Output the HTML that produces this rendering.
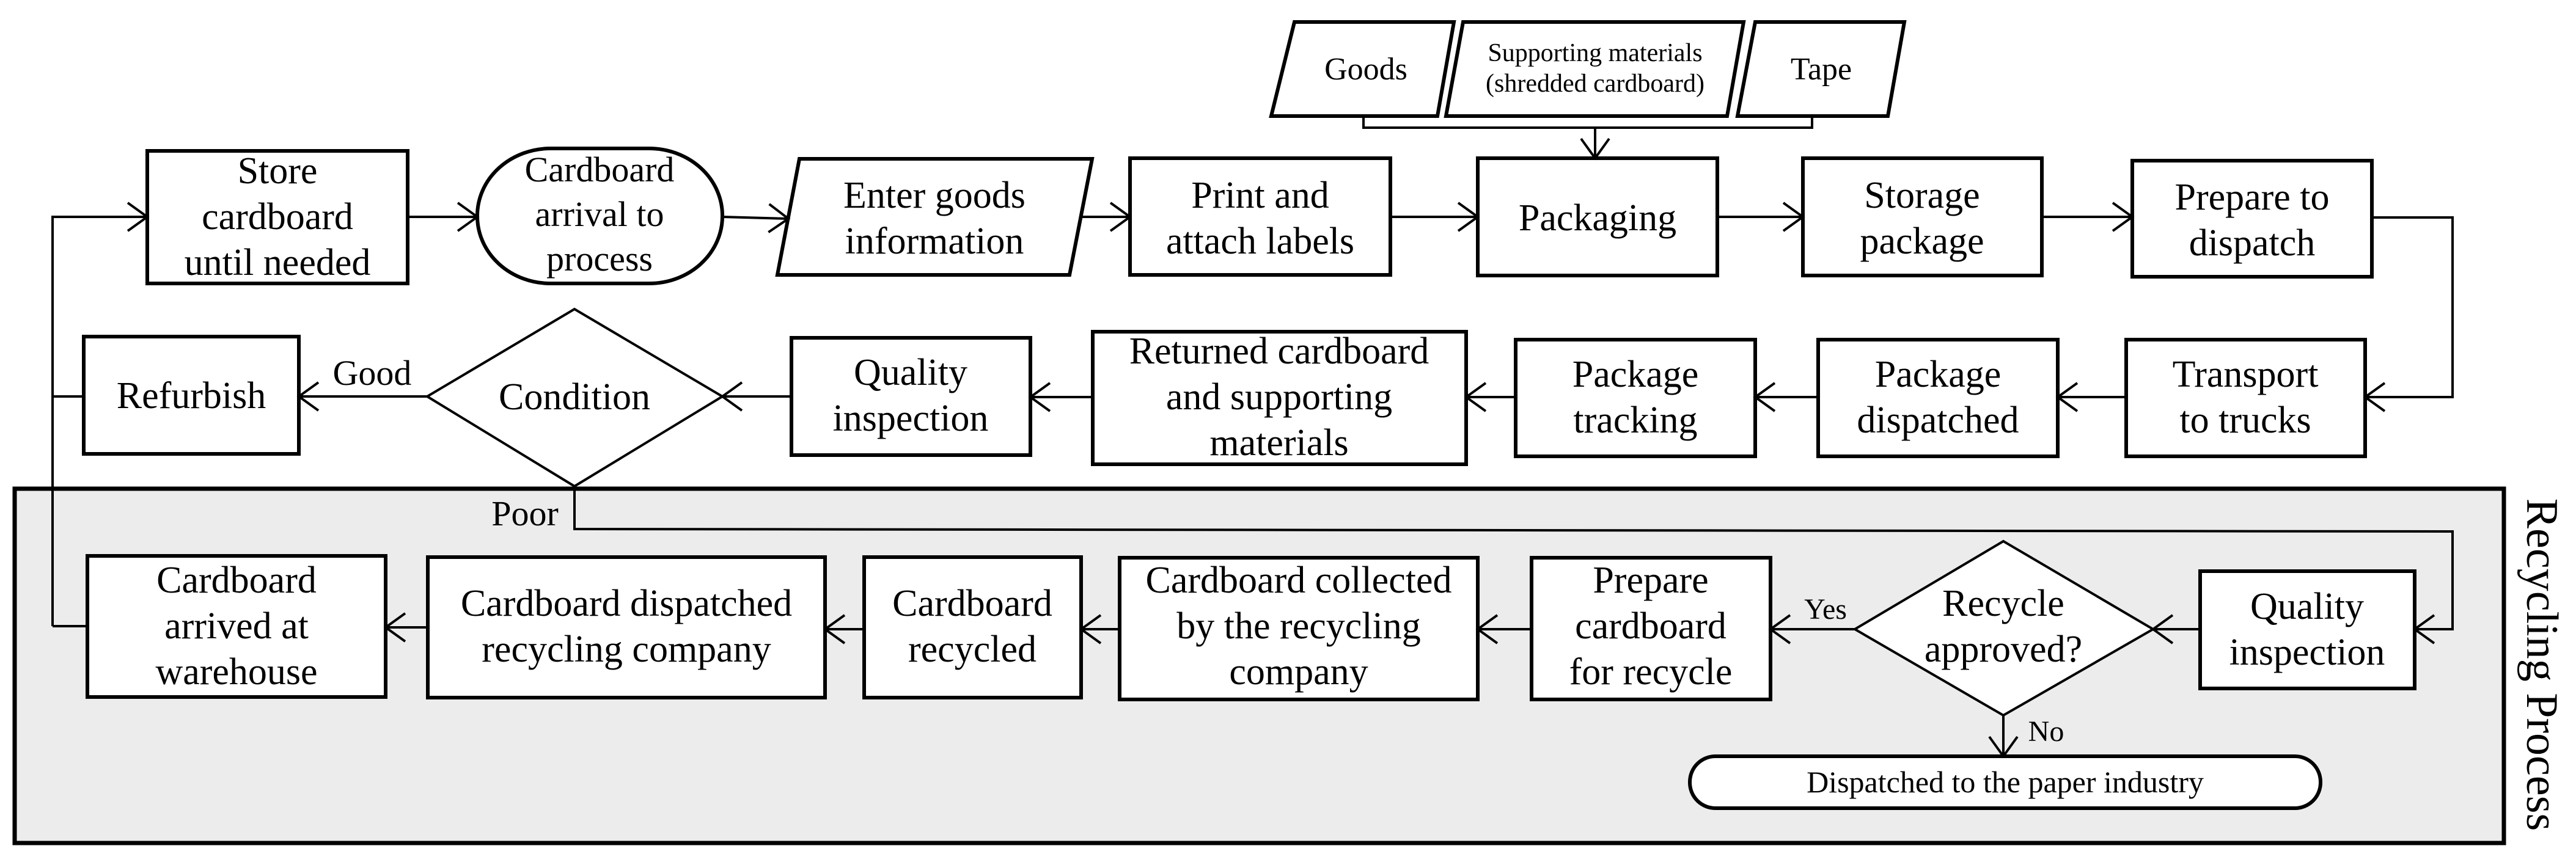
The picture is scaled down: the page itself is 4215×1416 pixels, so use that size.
<!DOCTYPE html>
<html><head><meta charset="utf-8"><style>html,body{margin:0;padding:0;background:#fff}svg{display:block}svg text{font-family:"Liberation Serif","Times New Roman",serif}</style></head>
<body>
<svg width="4215" height="1416" viewBox="0 0 4215 1416" xmlns="http://www.w3.org/2000/svg" fill="none" stroke="#000">
<defs>
<marker id="a" markerUnits="userSpaceOnUse" markerWidth="40" markerHeight="60" refX="34" refY="25" orient="auto">
<path d="M2,2 L34,25 L2,48" fill="none" stroke="#000" stroke-width="4"/>
</marker>
</defs>
<rect x="24" y="800" width="4073" height="580" fill="#ececec" stroke-width="7"/>
<g stroke-width="6" fill="#fff">
<rect x="241" y="247" width="426" height="217"/>
<rect x="781" y="243" width="401" height="221" rx="120" ry="110"/>
<polygon points="1308,260 1787,260 1750,450 1272,450"/>
<rect x="1849" y="259" width="426" height="191"/>
<rect x="2418" y="259" width="392" height="192"/>
<rect x="2950" y="259" width="391" height="192"/>
<rect x="3489" y="263" width="392" height="190"/>
<polygon points="2118,36 2379,36 2352,190 2080,190"/>
<polygon points="2394,36 2853,36 2826,190 2366,190"/>
<polygon points="2872,36 3116,36 3089,190 2843,190"/>
<rect x="137" y="551" width="352" height="192"/>
<rect x="1295" y="553" width="391" height="192"/>
<rect x="1788" y="543" width="611" height="217"/>
<rect x="2480" y="556" width="392" height="191"/>
<rect x="2975" y="556" width="392" height="191"/>
<rect x="3479" y="556" width="391" height="191"/>
<rect x="143" y="910" width="488" height="231"/>
<rect x="700" y="912" width="650" height="230"/>
<rect x="1414" y="912" width="355" height="230"/>
<rect x="1832" y="913" width="586" height="232"/>
<rect x="2506" y="913" width="391" height="232"/>
<rect x="3600" y="935" width="351" height="192"/>
<rect x="2765" y="1238" width="1032" height="85" rx="42"/>
</g>
<g stroke-width="4" fill="#fff">
<polygon points="940,506 1182,649 940,796 699,649"/>
<polygon points="3278,886 3523,1030 3278,1171 3035,1030"/>
</g>
<g stroke-width="4">
<polyline points="86,1025 86,355 241,355" marker-end="url(#a)"/>
<line x1="86" y1="649" x2="137" y2="649"/>
<line x1="86" y1="1025" x2="143" y2="1025"/>
<line x1="667" y1="355" x2="781" y2="355" marker-end="url(#a)"/>
<line x1="1182" y1="355" x2="1290" y2="358" marker-end="url(#a)"/>
<line x1="1769" y1="355" x2="1849" y2="355" marker-end="url(#a)"/>
<line x1="2275" y1="355" x2="2418" y2="355" marker-end="url(#a)"/>
<line x1="2810" y1="355" x2="2950" y2="355" marker-end="url(#a)"/>
<line x1="3341" y1="355" x2="3489" y2="355" marker-end="url(#a)"/>
<polyline points="3881,356 4013,356 4013,650 3870,650" marker-end="url(#a)"/>
<line x1="3479" y1="650" x2="3367" y2="650" marker-end="url(#a)"/>
<line x1="2975" y1="650" x2="2872" y2="650" marker-end="url(#a)"/>
<line x1="2480" y1="650" x2="2399" y2="650" marker-end="url(#a)"/>
<line x1="1788" y1="650" x2="1686" y2="650" marker-end="url(#a)"/>
<line x1="1295" y1="649" x2="1182" y2="649" marker-end="url(#a)"/>
<line x1="699" y1="649" x2="489" y2="649" marker-end="url(#a)"/>
<polyline points="940,796 940,866 4013,870 4013,1030 3951,1030" marker-end="url(#a)"/>
<line x1="3600" y1="1030" x2="3523" y2="1030" marker-end="url(#a)"/>
<line x1="3035" y1="1030" x2="2897" y2="1030" marker-end="url(#a)"/>
<line x1="2506" y1="1030" x2="2418" y2="1030" marker-end="url(#a)"/>
<line x1="1832" y1="1030" x2="1769" y2="1030" marker-end="url(#a)"/>
<line x1="1414" y1="1030" x2="1350" y2="1030" marker-end="url(#a)"/>
<line x1="700" y1="1027" x2="631" y2="1027" marker-end="url(#a)"/>
<line x1="3278" y1="1171" x2="3278" y2="1238" marker-end="url(#a)"/>
<polyline points="2231,190 2231,209 2965,209 2965,190"/>
<line x1="2610" y1="209" x2="2610" y2="259" marker-end="url(#a)"/>
</g>
<g fill="#000" stroke="none" font-size="62" text-anchor="middle">
<text x="454" y="300">Store</text><text x="454" y="375">cardboard</text><text x="454" y="450">until needed</text>
<text x="981" y="297" font-size="58">Cardboard</text><text x="981" y="370" font-size="58">arrival to</text><text x="981" y="443" font-size="58">process</text>
<text x="1529" y="340">Enter goods</text><text x="1529" y="415">information</text>
<text x="2062" y="340">Print and</text><text x="2062" y="415">attach labels</text>
<text x="2614" y="377">Packaging</text>
<text x="3145" y="340">Storage</text><text x="3145" y="415">package</text>
<text x="3685" y="343">Prepare to</text><text x="3685" y="418">dispatch</text>
<text x="2235" y="130" font-size="52">Goods</text>
<text x="2610" y="100" font-size="42">Supporting materials</text>
<text x="2610" y="150" font-size="42">(shredded cardboard)</text>
<text x="2980" y="130" font-size="52">Tape</text>
<text x="313" y="668">Refurbish</text>
<text x="609" y="630" font-size="58">Good</text>
<text x="940" y="670">Condition</text>
<text x="1490" y="630">Quality</text><text x="1490" y="705">inspection</text>
<text x="2093" y="595">Returned cardboard</text><text x="2093" y="670">and supporting</text><text x="2093" y="745">materials</text>
<text x="2676" y="633">Package</text><text x="2676" y="708">tracking</text>
<text x="3171" y="633">Package</text><text x="3171" y="708">dispatched</text>
<text x="3674" y="633">Transport</text><text x="3674" y="708">to trucks</text>
<text x="859" y="860" font-size="58">Poor</text>
<text x="387" y="970">Cardboard</text><text x="387" y="1045">arrived at</text><text x="387" y="1120">warehouse</text>
<text x="1025" y="1008">Cardboard dispatched</text><text x="1025" y="1083">recycling  company</text>
<text x="1591" y="1008">Cardboard</text><text x="1591" y="1083">recycled</text>
<text x="2125" y="970">Cardboard collected</text><text x="2125" y="1045">by the recycling</text><text x="2125" y="1120">company</text>
<text x="2701" y="970">Prepare</text><text x="2701" y="1045">cardboard</text><text x="2701" y="1120">for recycle</text>
<text x="2987" y="1013" font-size="48">Yes</text>
<text x="3278" y="1008">Recycle</text><text x="3278" y="1083">approved?</text>
<text x="3775" y="1013">Quality</text><text x="3775" y="1088">inspection</text>
<text x="3348" y="1213" font-size="48">No</text>
<text x="3281" y="1297" font-size="50">Dispatched to the paper industry</text>
<text transform="translate(4135,1088) rotate(90)" font-size="74">Recycling  Process</text>
</g>
</svg>
</body></html>
